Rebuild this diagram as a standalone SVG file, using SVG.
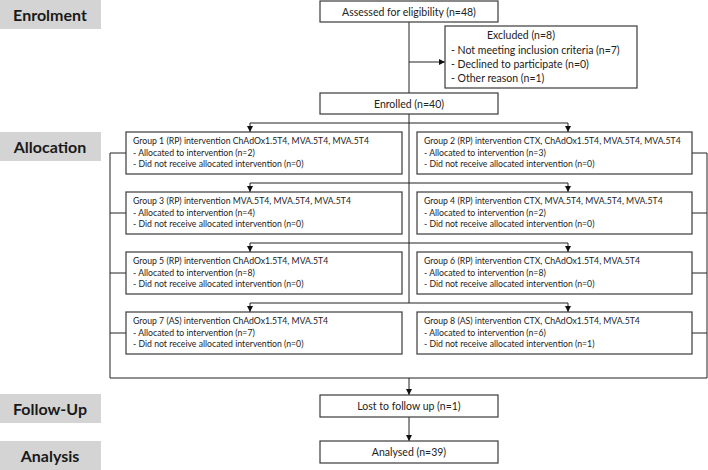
<svg xmlns="http://www.w3.org/2000/svg" width="708" height="470" viewBox="0 0 708 470">
<style>
.lab{fill:#d4d4d4}
.labt{font-family:Lato,"Open Sans","Liberation Sans",sans-serif;font-weight:bold;font-size:16px;fill:#1a1a1a;text-anchor:middle}
.box{fill:#fff;stroke:#3a3a3a;stroke-width:1.2}
.t{font-family:Lato,"Liberation Sans",sans-serif;font-size:10.5px;fill:#222}
.tc{text-anchor:middle}
.g{font-family:Lato,"Liberation Sans",sans-serif;font-size:8.7px;fill:#222}
.ln{fill:none;stroke:#222;stroke-width:1}
</style>
<defs>
<marker id="ah" markerUnits="userSpaceOnUse" markerWidth="7" markerHeight="7" refX="6" refY="3" orient="auto">
<path d="M0,0 L6,3 L0,6 z" fill="#111"/>
</marker>
</defs>
<g id="stage-enrolment"><rect class="lab" x="0" y="0" width="101" height="29"/><text class="labt" x="50" y="20.5">Enrolment</text></g>
<g id="stage-allocation"><rect class="lab" x="0" y="132" width="101" height="29"/><text class="labt" x="50" y="152.5">Allocation</text></g>
<g id="stage-followup"><rect class="lab" x="0" y="394" width="101" height="29"/><text class="labt" x="50" y="414.5">Follow-Up</text></g>
<g id="stage-analysis"><rect class="lab" x="0" y="441" width="101" height="29"/><text class="labt" x="50" y="461.5">Analysis</text></g>

<g id="connectors">
<path class="ln" d="M409,22 V93"/>
<path class="ln" d="M409,62 H445" marker-end="url(#ah)"/>
<path class="ln" d="M409,114 V303"/>
<path class="ln" d="M409,123 H250 V132" marker-end="url(#ah)"/>
<path class="ln" d="M409,123 H568 V132" marker-end="url(#ah)"/>
<path class="ln" d="M409,183 H250 V192" marker-end="url(#ah)"/>
<path class="ln" d="M409,183 H568 V192" marker-end="url(#ah)"/>
<path class="ln" d="M409,243 H250 V252" marker-end="url(#ah)"/>
<path class="ln" d="M409,243 H568 V252" marker-end="url(#ah)"/>
<path class="ln" d="M409,303 H250 V312" marker-end="url(#ah)"/>
<path class="ln" d="M409,303 H568 V312" marker-end="url(#ah)"/>
<path class="ln" d="M126,153 H110 V378 H707 V153 H692"/>
<path class="ln" d="M126,213 H110 M126,273 H110 M126,333 H110"/>
<path class="ln" d="M692,213 H707 M692,273 H707 M692,333 H707"/>
<path class="ln" d="M409,378 V395" marker-end="url(#ah)"/>
<path class="ln" d="M409,417 V441" marker-end="url(#ah)"/>
</g>

<g id="assessed"><rect class="box" x="320" y="1" width="178" height="21"/><text class="t tc" x="409" y="15.5">Assessed for eligibility (n=48)</text></g>
<g id="excluded"><rect class="box" x="445" y="26" width="192" height="62"/>
<text class="t" x="487" y="39">Excluded (n=8)</text>
<text class="t" x="451" y="54">- Not meeting inclusion criteria (n=7)</text>
<text class="t" x="451" y="68">- Declined to participate (n=0)</text>
<text class="t" x="451" y="81.5">- Other reason (n=1)</text></g>
<g id="enrolled"><rect class="box" x="320" y="93" width="178" height="21"/><text class="t tc" x="409" y="107.5">Enrolled (n=40)</text></g>

<g id="group1"><rect class="box" x="126" y="132" width="276" height="42"/>
<text class="g" x="133" y="144">Group 1 (RP) intervention ChAdOx1.5T4, MVA.5T4, MVA.5T4</text>
<text class="g" x="133" y="155.5">- Allocated to intervention (n=2)</text>
<text class="g" x="133" y="167">- Did not receive allocated intervention (n=0)</text></g>
<g id="group2"><rect class="box" x="417" y="132" width="275" height="42"/>
<text class="g" x="424" y="144">Group 2 (RP) intervention CTX, ChAdOx1.5T4, MVA.5T4, MVA.5T4</text>
<text class="g" x="424" y="155.5">- Allocated to intervention (n=3)</text>
<text class="g" x="424" y="167">- Did not receive allocated intervention (n=0)</text></g>
<g id="group3"><rect class="box" x="126" y="192" width="276" height="42"/>
<text class="g" x="133" y="204">Group 3 (RP) intervention MVA.5T4, MVA.5T4, MVA.5T4</text>
<text class="g" x="133" y="215.5">- Allocated to intervention (n=4)</text>
<text class="g" x="133" y="227">- Did not receive allocated intervention (n=0)</text></g>
<g id="group4"><rect class="box" x="417" y="192" width="275" height="42"/>
<text class="g" x="424" y="204">Group 4 (RP) intervention CTX, MVA.5T4, MVA.5T4, MVA.5T4</text>
<text class="g" x="424" y="215.5">- Allocated to intervention (n=2)</text>
<text class="g" x="424" y="227">- Did not receive allocated intervention (n=0)</text></g>
<g id="group5"><rect class="box" x="126" y="252" width="276" height="42"/>
<text class="g" x="133" y="264">Group 5 (RP) intervention ChAdOx1.5T4, MVA.5T4</text>
<text class="g" x="133" y="275.5">- Allocated to intervention (n=8)</text>
<text class="g" x="133" y="287">- Did not receive allocated intervention (n=0)</text></g>
<g id="group6"><rect class="box" x="417" y="252" width="275" height="42"/>
<text class="g" x="424" y="264">Group 6 (RP) intervention CTX, ChAdOx1.5T4, MVA.5T4</text>
<text class="g" x="424" y="275.5">- Allocated to intervention (n=8)</text>
<text class="g" x="424" y="287">- Did not receive allocated intervention (n=0)</text></g>
<g id="group7"><rect class="box" x="126" y="312" width="276" height="42"/>
<text class="g" x="133" y="324">Group 7 (AS) intervention ChAdOx1.5T4, MVA.5T4</text>
<text class="g" x="133" y="335.5">- Allocated to intervention (n=7)</text>
<text class="g" x="133" y="347">- Did not receive allocated intervention (n=0)</text></g>
<g id="group8"><rect class="box" x="417" y="312" width="275" height="42"/>
<text class="g" x="424" y="324">Group 8 (AS) intervention CTX, ChAdOx1.5T4, MVA.5T4</text>
<text class="g" x="424" y="335.5">- Allocated to intervention (n=6)</text>
<text class="g" x="424" y="347">- Did not receive allocated intervention (n=1)</text></g>

<g id="lost"><rect class="box" x="320" y="395" width="178" height="22"/><text class="t tc" x="409" y="410">Lost to follow up (n=1)</text></g>
<g id="analysed"><rect class="box" x="320" y="441" width="178" height="22"/><text class="t tc" x="409" y="456">Analysed (n=39)</text></g>
</svg>
